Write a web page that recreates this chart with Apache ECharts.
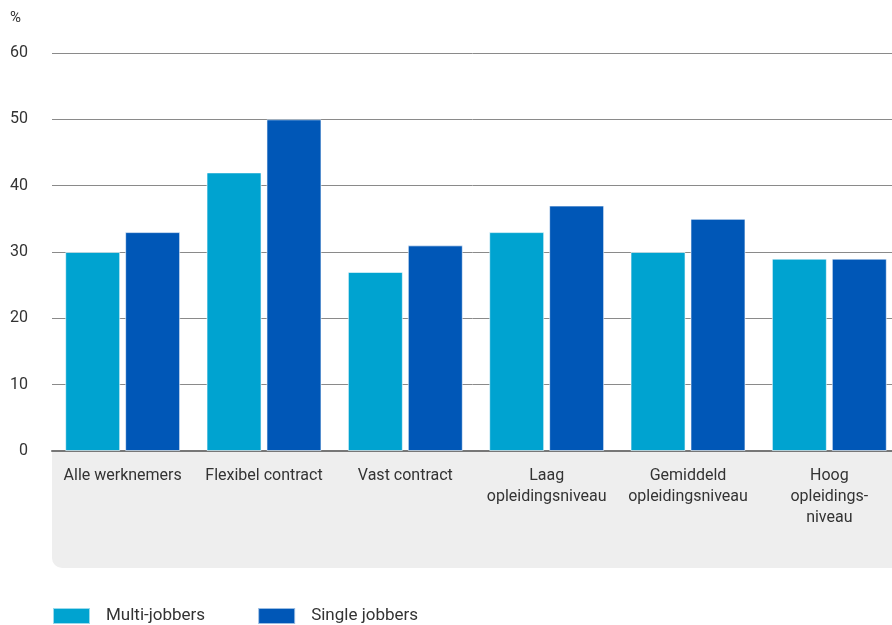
<!DOCTYPE html>
<html>
<head>
<meta charset="utf-8">
<script src="https://cdn.jsdelivr.net/npm/echarts@6/dist/echarts.min.js"></script>
<style>
html, body { margin: 0; padding: 0; background: #fff; }
#chart_div { width: 892px; height: 625px; }
</style>
</head>
<body>
<div id="chart_div"></div>
<script>
var categories = ['Alle werknemers', 'Flexibel contract', 'Vast contract',
	'Laag\nopleidingsniveau', 'Gemiddeld\nopleidingsniveau', 'Hoog\nopleidings-\nniveau'];
var multiJobbers = [30, 42, 27, 33, 30, 29];
var singleJobbers = [33, 50, 31, 37, 35, 29];
var seriesNames = ['Multi-jobbers', 'Single jobbers'];
var colorList = ['#00a3d0', '#0057b7'];
var fontName = 'Roboto, "Noto Sans", sans-serif';

var chart = echarts.init(document.getElementById('chart_div'));

var option = {
	textStyle: { fontFamily: fontName },
	animation: false,
	grid: { left: 52, width: 848, top: 53, bottom: 174, outerBoundsMode: 'none', containLabel: false },
	graphic: [
		{
			type: 'rect',
			z: -10,
			shape: { x: 52, y: 452, width: 850, height: 116, r: [0, 0, 0, 10] },
			style: { fill: '#eeeeee' }
		},
		{
			type: 'text',
			left: 10, top: 11,
			style: { text: '%', fill: '#333', font: '15px ' + fontName }
		}
	],
	legend: {
		left: 47, top: 602,
		itemWidth: 37, itemHeight: 16, itemGap: 52,
		icon: 'rect',
		textStyle: { fontSize: 17, color: '#333', padding: [0, 0, 0, 11] },
		data: seriesNames
	},
	xAxis: {
		type: 'category',
		data: categories,
		axisLine: { lineStyle: { color: '#777', width: 2 } },
		axisTick: { show: false },
		axisLabel: { color: '#333', fontSize: 16, lineHeight: 21, margin: 14, interval: 0 }
	},
	yAxis: {
		type: 'value',
		min: 0, max: 60, interval: 10,
		axisLabel: { color: '#333', fontSize: 16, margin: 24 },
		splitLine: { lineStyle: { color: '#8a8a8a', width: 1 } }
	},
	series: [
		{
			name: seriesNames[0], type: 'bar', data: multiJobbers,
			barWidth: 55, barGap: '9%',
			itemStyle: { color: colorList[0], borderColor: 'rgba(255,255,255,0.6)', borderWidth: 1 }
		},
		{
			name: seriesNames[1], type: 'bar', data: singleJobbers,
			barWidth: 55,
			itemStyle: { color: colorList[1], borderColor: 'rgba(255,255,255,0.6)', borderWidth: 1 }
		}
	]
};
chart.setOption(option);
</script>
</body>
</html>
